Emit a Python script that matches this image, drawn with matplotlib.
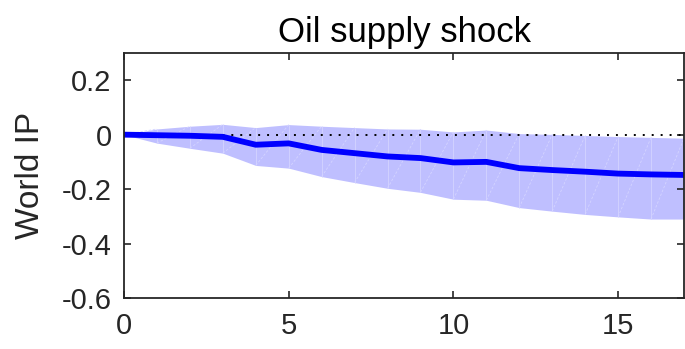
import matplotlib
matplotlib.use("Agg")
import matplotlib.pyplot as plt

plt.rcParams['font.family'] = ['Liberation Sans', 'DejaVu Sans']

# impulse response of world IP to an oil supply shock
horizon = list(range(18))
response = [0.0, -0.002, -0.004, -0.008, -0.037, -0.032, -0.056, -0.068, -0.080,
            -0.086, -0.102, -0.100, -0.123, -0.130, -0.136, -0.143, -0.146, -0.148]
upper = [0.0, 0.021, 0.031, 0.038, 0.026, 0.037, 0.031, 0.026, 0.021,
         0.020, 0.010, 0.017, 0.004, 0.001, -0.003, -0.007, -0.010, -0.013]
lower = [0.0, -0.031, -0.050, -0.068, -0.113, -0.123, -0.154, -0.176, -0.197,
         -0.212, -0.237, -0.241, -0.268, -0.281, -0.293, -0.302, -0.310, -0.310]

fig = plt.figure(figsize=(6.85, 3.49), dpi=100)
ax = fig.add_axes([124 / 685, 1 - 298 / 349, 560 / 685, 245 / 349])

ax.fill_between(horizon, lower, upper, color='#bfbfff', linewidth=0)
# faint seams like the patch triangulation in the original
ax.vlines(horizon[1:-1], lower[1:-1], upper[1:-1], color='#d4d4ff', linewidth=0.6)
for k in range(len(horizon) - 1):
    ax.plot([horizon[k], horizon[k + 1]], [lower[k], upper[k + 1]],
            color='#d4d4ff', linewidth=0.6, linestyle=(0, (3, 2)))

ax.plot(horizon, [0] * len(horizon), color='black', linestyle=(0, (1, 3.6)),
        linewidth=1.4)
ax.plot(horizon, response, color='#0000ff', linewidth=4.2)

ax.set_xlim(0, 17)
ax.set_ylim(-0.6, 0.3)
ax.set_xticks([0, 5, 10, 15])
ax.set_yticks([-0.6, -0.4, -0.2, 0, 0.2])
ax.set_yticklabels(['-0.6', '-0.4', '-0.2', '0', '0.2'])
ax.tick_params(direction='in', top=True, right=True, labelsize=21, length=5,
               width=1.2, colors='#262626', labelcolor='#262626')
ax.tick_params(axis='x', pad=10)
ax.tick_params(axis='y', pad=9)
for sp in ax.spines.values():
    sp.set_linewidth(1.3)
    sp.set_color('#262626')

ax.set_title('Oil supply shock', fontsize=25, color='black', pad=8)
ax.set_ylabel('World IP', fontsize=24, color='#262626')
ax.yaxis.set_label_coords(-0.14, 0.5)

fig.savefig('out.png', dpi=100)
